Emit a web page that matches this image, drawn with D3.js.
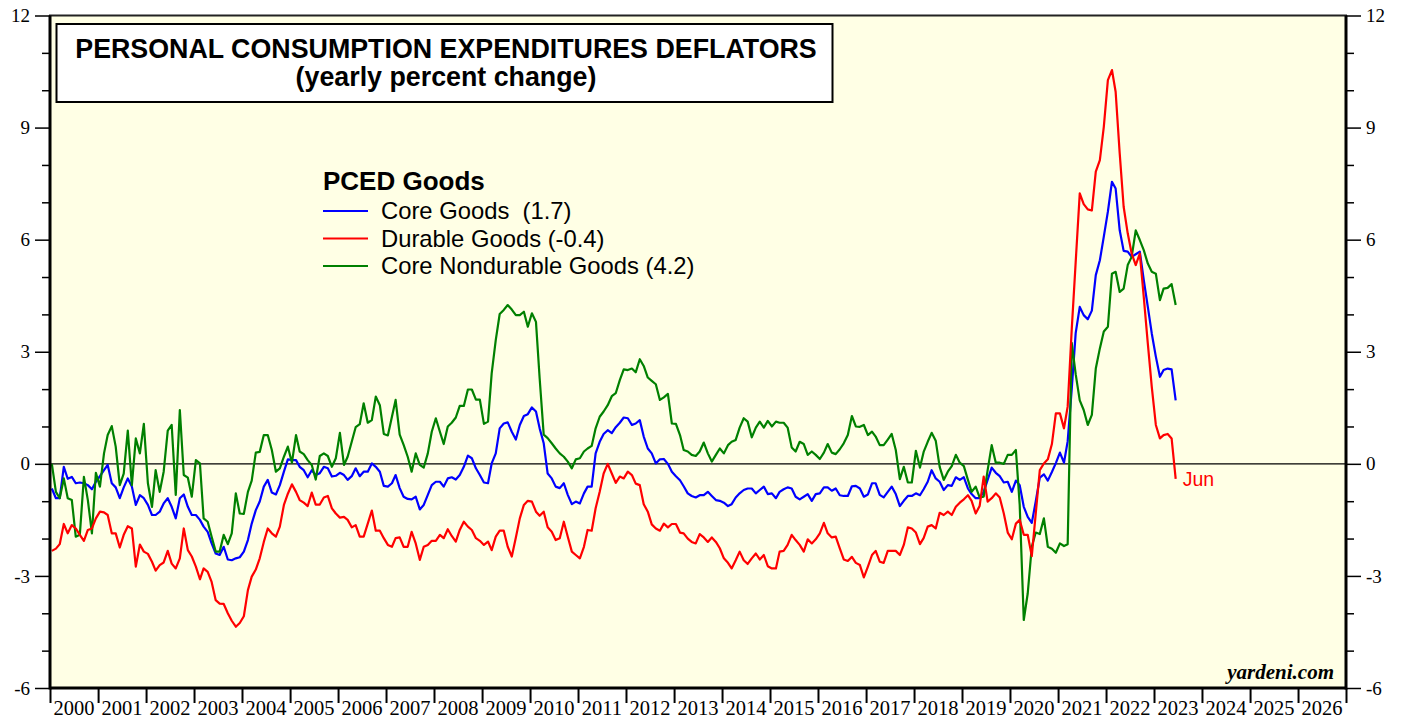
<!DOCTYPE html>
<html>
<head>
<meta charset="utf-8">
<script src="https://cdn.jsdelivr.net/npm/d3@7"></script>
<style>
  body { margin: 0; background: #fff; }
  svg { display: block; }
</style>
</head>
<body>
<div class="chart-container"></div>
<script>
"use strict";

// Monthly values, Jan 2000 .. Jun 2023 (yearly % change)
const startYear = 2000;

const coreGoods = [
  -0.66, -0.92, -0.92, -0.08, -0.40, -0.35, -0.52, -0.50, -0.52, -0.57, -0.68, -0.48, // 2000
  -0.33, -0.17, -0.03, -0.52, -0.63, -0.92, -0.63, -0.39, -0.61, -1.10, -0.84, -0.92, // 2001
  -1.10, -1.37, -1.37, -1.28, -1.06, -0.92, -1.15, -1.46, -0.92, -0.82, -1.15, -1.37, // 2002
  -1.37, -1.50, -1.68, -1.82, -2.13, -2.40, -2.44, -2.22, -2.56, -2.58, -2.53, -2.50, // 2003
  -2.35, -2.04, -1.60, -1.24, -1.01, -0.61, -0.43, -0.77, -0.82, -0.57, -0.21, 0.12,  // 2004
  0.10, 0.10, -0.08, -0.17, -0.36, -0.17, -0.30, -0.25, -0.08, -0.12, -0.34, -0.32,   // 2005
  -0.24, -0.30, -0.43, -0.33, -0.12, -0.33, -0.21, -0.21, 0.01, -0.08, -0.21, -0.59,  // 2006
  -0.61, -0.52, -0.30, -0.65, -0.88, -0.94, -0.95, -0.88, -1.22, -1.10, -0.83, -0.57, // 2007
  -0.48, -0.48, -0.61, -0.39, -0.36, -0.42, -0.30, -0.08, 0.22, 0.15, -0.12, -0.30,   // 2008
  -0.50, -0.52, 0.01, 0.28, 0.95, 1.08, 1.11, 0.86, 0.65, 1.04, 1.28, 1.33,           // 2009
  1.51, 1.40, 0.95, 0.55, -0.26, -0.39, -0.61, -0.65, -0.52, -0.83, -1.08, -1.01,     // 2010
  -1.06, -0.79, -0.61, -0.61, 0.28, 0.59, 0.80, 0.90, 0.82, 0.98, 1.10, 1.24,         // 2011
  1.22, 1.04, 1.08, 1.17, 0.73, 0.41, 0.28, 0.01, 0.12, 0.13, 0.00, -0.21,            // 2012
  -0.33, -0.44, -0.60, -0.79, -0.86, -0.90, -0.84, -0.84, -0.75, -0.86, -0.97, -0.99, // 2013
  -1.04, -1.13, -1.08, -0.90, -0.79, -0.70, -0.66, -0.66, -0.79, -0.70, -0.61, -0.81, // 2014
  -0.79, -0.92, -0.75, -0.68, -0.63, -0.66, -0.88, -0.95, -0.88, -0.81, -0.99, -0.81, // 2015
  -0.79, -0.63, -0.63, -0.72, -0.66, -0.84, -0.86, -0.86, -0.60, -0.59, -0.66, -0.88, // 2016
  -0.82, -0.52, -0.52, -0.83, -0.90, -0.75, -0.61, -0.81, -1.13, -0.99, -0.86, -0.86, // 2017
  -0.79, -0.84, -0.68, -0.48, -0.17, -0.39, -0.48, -0.70, -0.57, -0.59, -0.36, -0.43, // 2018
  -0.36, -0.66, -0.81, -0.92, -0.92, -0.75, -0.43, -0.10, -0.24, -0.33, -0.50, -0.48, // 2019
  -0.75, -0.45, -0.57, -1.15, -1.42, -1.58, -1.01, -0.37, -0.28, -0.45, -0.22, 0.02,  // 2020
  0.30, 0.03, 0.60, 2.00, 3.50, 4.20, 3.98, 3.87, 4.10, 5.05, 5.45, 6.08,             // 2021
  6.75, 7.55, 7.37, 6.25, 5.70, 5.68, 5.54, 5.61, 5.68, 4.92, 4.20, 3.49,             // 2022
  2.87, 2.33, 2.51, 2.55, 2.53, 1.70                                                  // 2023
];

const durableGoods = [
  -2.33, -2.27, -2.15, -1.61, -1.86, -1.64, -1.73, -1.90, -2.06, -1.77, -1.73, -1.46, // 2000
  -1.28, -1.30, -1.37, -1.86, -1.86, -2.24, -1.90, -1.67, -1.73, -2.75, -2.16, -2.35, // 2001
  -2.41, -2.62, -2.86, -2.71, -2.64, -2.33, -2.67, -2.80, -2.53, -1.73, -2.31, -2.48, // 2002
  -2.75, -3.09, -2.80, -2.89, -3.16, -3.65, -3.74, -3.75, -4.00, -4.20, -4.36, -4.26, // 2003
  -4.08, -3.38, -3.02, -2.83, -2.53, -2.09, -1.73, -1.86, -1.95, -1.68, -1.10, -0.80, // 2004
  -0.55, -0.75, -0.97, -1.04, -1.13, -0.77, -1.09, -1.09, -0.90, -0.86, -1.19, -1.33, // 2005
  -1.44, -1.42, -1.50, -1.70, -1.64, -1.95, -1.95, -1.60, -1.25, -1.79, -1.79, -1.99, // 2006
  -2.17, -2.22, -1.99, -1.97, -2.22, -2.22, -1.82, -2.13, -2.57, -2.22, -2.17, -2.06, // 2007
  -2.06, -1.90, -1.99, -1.75, -1.93, -2.08, -1.77, -1.55, -1.68, -1.77, -1.99, -2.06, // 2008
  -2.17, -2.08, -2.31, -1.95, -1.79, -1.79, -2.22, -2.48, -1.97, -1.46, -1.10, -0.99, // 2009
  -1.01, -1.28, -1.39, -1.28, -1.70, -1.82, -2.04, -1.99, -1.55, -1.95, -2.35, -2.44, // 2010
  -2.53, -2.22, -1.77, -1.79, -1.19, -0.75, -0.26, 0.00, -0.26, -0.51, -0.34, -0.39,  // 2011
  -0.21, -0.30, -0.53, -0.57, -1.08, -1.28, -1.62, -1.73, -1.79, -1.60, -1.70, -1.61, // 2012
  -1.61, -1.84, -1.86, -2.00, -2.09, -2.13, -1.88, -1.97, -2.09, -1.97, -2.09, -2.26, // 2013
  -2.53, -2.65, -2.80, -2.58, -2.35, -2.58, -2.68, -2.53, -2.40, -2.56, -2.44, -2.74, // 2014
  -2.80, -2.80, -2.35, -2.33, -2.17, -1.90, -2.04, -2.17, -2.35, -2.02, -2.13, -2.02, // 2015
  -1.86, -1.58, -1.86, -1.97, -1.95, -2.26, -2.56, -2.60, -2.49, -2.65, -2.71, -3.04, // 2016
  -2.75, -2.44, -2.33, -2.62, -2.65, -2.33, -2.33, -2.33, -2.44, -2.17, -1.70, -1.73, // 2017
  -1.84, -2.15, -1.99, -1.68, -1.64, -1.73, -1.31, -1.37, -1.28, -1.37, -1.15, -1.04, // 2018
  -0.95, -0.84, -0.99, -1.33, -1.13, -0.34, -1.01, -0.92, -0.79, -0.90, -1.33, -1.84, // 2019
  -2.02, -1.60, -1.50, -1.90, -1.90, -2.47, -1.33, -0.17, 0.01, 0.12, 0.53, 1.35,     // 2020
  1.35, 0.95, 1.53, 3.60, 5.40, 7.24, 6.95, 6.81, 6.78, 7.82, 8.13, 9.02,             // 2021
  10.27, 10.54, 9.96, 8.31, 6.88, 6.17, 5.63, 5.32, 5.63, 4.47, 3.22, 2.06,           // 2022
  1.04, 0.68, 0.77, 0.80, 0.68, -0.40                                                 // 2023
];

const coreNondurableGoods = [
  0.00, -0.75, -0.92, -0.39, -0.92, -0.97, -1.95, -1.90, -0.35, -0.97, -1.86, -0.24,  // 2000
  -0.61, 0.28, 0.77, 1.01, 0.46, -0.57, -0.26, 0.89, -0.57, 0.68, 0.28, 1.07,         // 2001
  -0.52, -1.15, -0.17, -0.75, -0.21, 0.89, 1.04, -0.83, 1.44, -0.30, -0.37, -0.88,    // 2002
  0.10, 0.01, -1.46, -1.55, -1.95, -2.35, -2.35, -1.90, -2.15, -1.86, -0.79, -1.33,   // 2003
  -1.34, -0.75, -0.45, 0.30, 0.32, 0.77, 0.77, 0.37, -0.21, -0.12, 0.19, 0.46,        // 2004
  0.03, 0.77, 0.33, 0.26, 0.10, -0.03, -0.42, 0.21, 0.28, 0.21, -0.08, 0.15,          // 2005
  0.83, -0.03, 0.19, 0.59, 0.98, 1.06, 1.62, 1.10, 1.17, 1.80, 1.57, 0.80,            // 2006
  0.76, 1.26, 1.71, 0.78, 0.51, 0.19, -0.21, 0.28, -0.03, -0.10, 0.28, 0.86,          // 2007
  1.22, 0.86, 0.53, 1.00, 1.10, 1.24, 1.55, 1.55, 1.99, 1.99, 1.72, 1.72,             // 2008
  1.07, 1.13, 2.42, 3.31, 4.01, 4.12, 4.25, 4.13, 3.98, 3.98, 4.07, 3.67,             // 2009
  4.03, 3.80, 2.29, 0.78, 0.69, 0.55, 0.41, 0.28, 0.19, 0.06, -0.12, 0.12,            // 2010
  0.15, 0.33, 0.41, 0.48, 0.95, 1.26, 1.40, 1.57, 1.81, 1.89, 2.24, 2.53,             // 2011
  2.51, 2.55, 2.45, 2.80, 2.62, 2.31, 2.22, 2.13, 1.71, 1.78, 1.87, 1.08,             // 2012
  1.07, 0.77, 0.37, 0.33, 0.24, 0.21, 0.33, 0.57, 0.28, 0.06, 0.24, 0.41,             // 2013
  0.28, 0.50, 0.59, 0.64, 0.97, 1.22, 1.13, 0.71, 0.97, 1.13, 0.97, 1.15,             // 2014
  1.00, 1.13, 1.10, 1.10, 0.97, 0.44, 0.33, 0.59, 0.53, 0.24, 0.33, 0.24,             // 2015
  0.13, 0.30, 0.53, 0.30, 0.26, 0.39, 0.55, 0.77, 1.28, 1.00, 0.99, 1.04,             // 2016
  0.77, 0.86, 0.73, 0.50, 0.50, 0.65, 0.80, 0.37, -0.41, -0.08, -0.50, -0.50,         // 2017
  0.35, -0.10, 0.32, 0.59, 0.83, 0.62, -0.08, -0.43, -0.21, -0.06, 0.24, 0.03,        // 2018
  -0.06, -0.43, -0.75, -0.61, -0.90, -0.88, -0.17, 0.50, 0.03, 0.03, 0.00, 0.24,      // 2019
  0.24, 0.37, -1.10, -4.18, -3.47, -2.22, -1.84, -1.88, -1.46, -2.22, -2.27, -2.38,   // 2020
  -2.13, -2.20, -2.15, 3.24, 2.40, 1.70, 1.44, 1.04, 1.31, 2.55, 3.09, 3.54,          // 2021
  3.67, 5.09, 5.14, 4.60, 4.69, 5.32, 5.54, 6.25, 5.99, 5.72, 5.36, 5.14,             // 2022
  5.09, 4.38, 4.69, 4.71, 4.81, 4.25                                                  // 2023
];

const seriesLabels = ["Core Goods  (1.7)", "Durable Goods (-0.4)", "Core Nondurable Goods (4.2)"];
const seriesColors = ["#0000ff", "#ff0000", "#008000"];
const yTicks = d3.range(-6, 13, 1);
const yearTicks = d3.range(2000, 2028);
const yearLabels = d3.range(2000, 2027);
const titleLines = ["PERSONAL CONSUMPTION EXPENDITURES DEFLATORS", "(yearly percent change)"];
const legendTitle = "PCED Goods";
const lastMonthLabel = "Jun";

function monthDate(i){
    // plotted at mid-month
    return new Date(startYear + Math.floor(i / 12), i % 12, 15);
}

// Layout
const W = 1405, H = 719;
const plot = {left: 50, right: 1346, top: 15.5, bottom: 688};

const svg = d3.select('.chart-container')
    .append('svg')
    .attr('width', W)
    .attr('height', H);

const xScale = d3.scaleTime()
    .domain([new Date(2000, 0, 1), new Date(2027, 0, 1)])
    .range([plot.left, plot.right]);

const yScale = d3.scaleLinear()
    .domain([-6, 12])
    .range([plot.bottom, plot.top]);

// Plot background
svg.append('rect')
    .attr('x', plot.left)
    .attr('y', plot.top)
    .attr('width', plot.right - plot.left)
    .attr('height', plot.bottom - plot.top)
    .attr('fill', '#ffffe5')
    .attr('stroke', '#222')
    .attr('stroke-width', 2);

// Zero line
svg.append('line')
    .attr('x1', plot.left).attr('x2', plot.right)
    .attr('y1', yScale(0)).attr('y2', yScale(0))
    .attr('stroke', '#000')
    .attr('stroke-width', 1.2);

// Y axes
const serif = '"Liberation Serif", "Times New Roman", serif';
const sans = '"Liberation Sans", Arial, Helvetica, sans-serif';

function styleYAxis(g, side){
    g.select('.domain').remove();
    g.selectAll('.tick line')
        .attr('stroke', '#000')
        .attr('stroke-width', 1.5)
        .attr('x2', d => (d % 3 === 0 ? 15 : 8) * side);
    g.selectAll('.tick text')
        .attr('font-family', serif)
        .attr('font-size', 19)
        .attr('fill', '#000')
        .attr('x', 20 * side);
}

svg.append('g')
    .attr('transform', `translate(${plot.left},0)`)
    .call(d3.axisLeft(yScale).tickValues(yTicks).tickFormat(d => d % 3 === 0 ? d : ''))
    .call(g => styleYAxis(g, -1));

svg.append('g')
    .attr('transform', `translate(${plot.right},0)`)
    .call(d3.axisRight(yScale).tickValues(yTicks).tickFormat(d => d % 3 === 0 ? d : ''))
    .call(g => styleYAxis(g, 1));

// X axis: year boundary ticks, labels centred in each year
const xAxis = svg.append('g')
    .attr('transform', `translate(0,${plot.bottom})`)
    .call(d3.axisBottom(xScale)
        .tickValues(yearTicks.map(y => new Date(y, 0, 1)))
        .tickSize(15)
        .tickFormat(''));
xAxis.select('.domain').remove();
xAxis.selectAll('.tick line').attr('stroke', '#000').attr('stroke-width', 2);

svg.append('g')
    .selectAll('text')
    .data(yearLabels)
    .enter()
    .append('text')
    .attr('x', d => xScale(new Date(d, 6, 2)))
    .attr('y', 715)
    .attr('text-anchor', 'middle')
    .attr('font-family', serif)
    .attr('font-size', 20.5)
    .text(d => d);

// Series lines
const series = [coreGoods, coreNondurableGoods, durableGoods];
const seriesIdx = [0, 2, 1];
const lineGen = d3.line()
    .x((d, i) => xScale(monthDate(i)))
    .y(d => yScale(d));

svg.append('g')
    .selectAll('path')
    .data(series)
    .enter()
    .append('path')
    .attr('d', d => lineGen(d))
    .attr('fill', 'none')
    .attr('stroke', (d, i) => seriesColors[seriesIdx[i]])
    .attr('stroke-width', 2.2)
    .attr('stroke-linejoin', 'round');

// "Jun" marker at last durable value
const lastI = durableGoods.length - 1;
svg.append('text')
    .attr('x', xScale(monthDate(lastI)) + 7)
    .attr('y', yScale(durableGoods[lastI]) + 7.5)
    .attr('font-family', sans)
    .attr('font-size', 19.5)
    .attr('fill', '#ff0000')
    .text(lastMonthLabel);

// Thick frame: left, right, bottom
const frame = svg.append('g').attr('stroke', '#000').attr('stroke-width', 3);
frame.append('line').attr('x1', plot.left).attr('x2', plot.left).attr('y1', plot.top).attr('y2', plot.bottom + 1.5);
frame.append('line').attr('x1', plot.right).attr('x2', plot.right).attr('y1', plot.top).attr('y2', plot.bottom + 1.5);
frame.append('line').attr('x1', plot.left).attr('x2', plot.right).attr('y1', plot.bottom).attr('y2', plot.bottom);

// Title box
svg.append('rect')
    .attr('x', 56.5).attr('y', 24)
    .attr('width', 776).attr('height', 78)
    .attr('fill', '#fff')
    .attr('stroke', '#000')
    .attr('stroke-width', 2);

svg.selectAll('.title')
    .data(titleLines)
    .enter()
    .append('text')
    .attr('class', 'title')
    .attr('x', 446)
    .attr('y', (d, i) => 58 + i * 28)
    .attr('text-anchor', 'middle')
    .attr('font-family', sans)
    .attr('font-weight', 'bold')
    .attr('font-size', 26.8)
    .text(d => d);

// Legend
const legend = svg.append('g').attr('transform', 'translate(323,0)');
legend.append('text')
    .attr('x', 0).attr('y', 190)
    .attr('font-family', sans)
    .attr('font-weight', 'bold')
    .attr('font-size', 26)
    .text(legendTitle);

const legendRows = legend.selectAll('.row')
    .data(seriesLabels)
    .enter()
    .append('g')
    .attr('class', 'row')
    .attr('transform', (d, i) => `translate(0,${211 + i * 27.5})`);

legendRows.append('line')
    .attr('x1', 0).attr('x2', 45)
    .attr('y1', 0).attr('y2', 0)
    .attr('stroke', (d, i) => seriesColors[i])
    .attr('stroke-width', 2.2);

legendRows.append('text')
    .attr('x', 58).attr('y', 8)
    .attr('font-family', sans)
    .attr('font-size', 23.8)
    .style('white-space', 'pre')
    .text(d => d);

// Source
svg.append('text')
    .attr('x', 1334).attr('y', 679)
    .attr('text-anchor', 'end')
    .attr('font-family', serif)
    .attr('font-weight', 'bold')
    .attr('font-style', 'italic')
    .attr('font-size', 21)
    .text('yardeni.com');
</script>
</body>
</html>
